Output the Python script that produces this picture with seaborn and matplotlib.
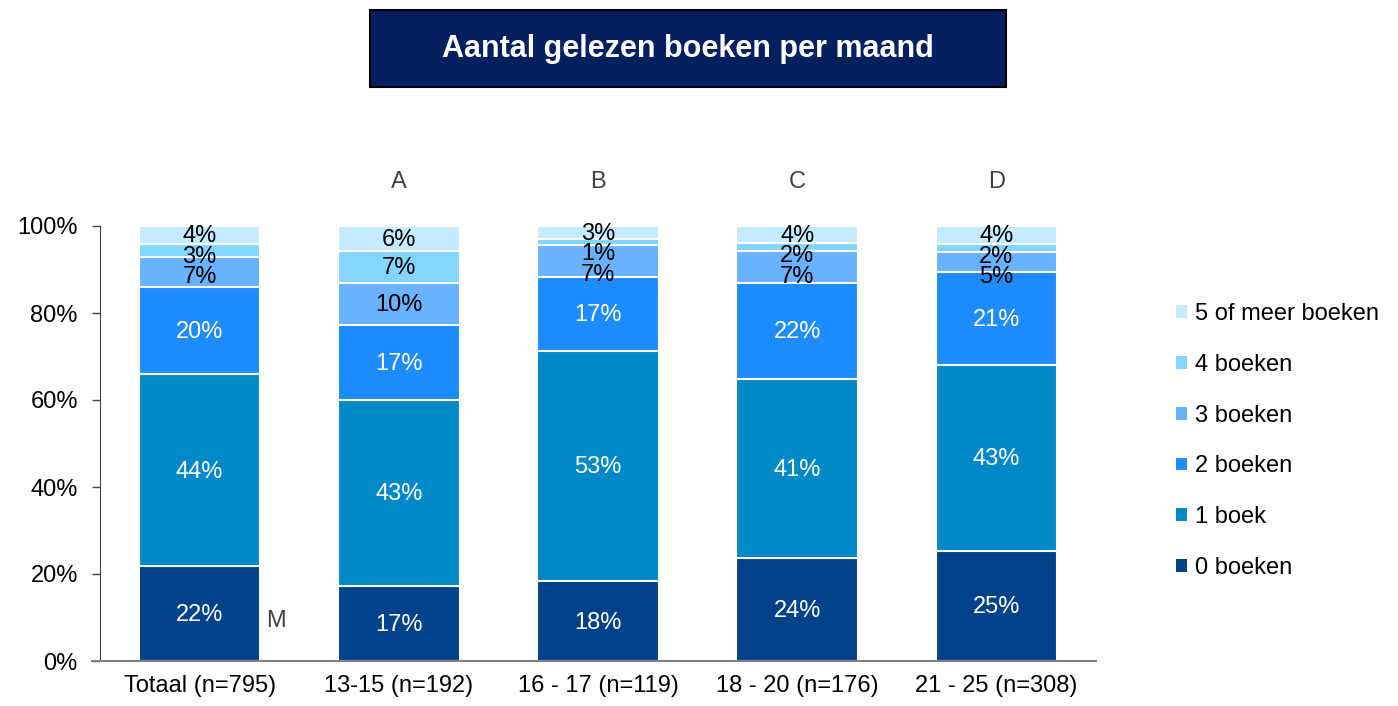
import numpy as np
import pandas as pd
import matplotlib
matplotlib.use("Agg")
import matplotlib.pyplot as plt
import seaborn as sns
from matplotlib.patches import Rectangle, Patch

# Data (percent per group, bottom to top)
groups = ['Totaal (n=795)', '13-15 (n=192)', '16 - 17 (n=119)', '18 - 20 (n=176)', '21 - 25 (n=308)']
categories = ['0 boeken', '1 boek', '2 boeken', '3 boeken', '4 boeken', '5 of meer boeken']
boeken_0 = [21.8, 17.2, 18.3, 23.7, 25.4]
boeken_1 = [44.1, 42.8, 53.0, 41.1, 42.6]
boeken_2 = [20.0, 17.2, 17.0, 22.1, 21.4]
boeken_3 = [7.0, 9.7, 7.4, 7.4, 4.6]
boeken_4 = [3.0, 7.3, 1.2, 1.8, 1.8]
boeken_5plus = [4.1, 5.8, 3.1, 3.9, 4.2]
group_letters = ['', 'A', 'B', 'C', 'D']

colors = ['#02428A', '#0088C8', '#1E8BFF', '#69B2FF', '#82D5FF', '#C4EBFF']
label_colors = ['white', 'white', 'white', 'black', 'black', 'black']

plt.rcParams['font.family'] = ['Liberation Sans', 'DejaVu Sans']
FS = 17
MIN_GAP = 4.7  # min distance between stacked labels, in % units

values = np.array([boeken_0, boeken_1, boeken_2, boeken_3, boeken_4, boeken_5plus])
cum = values.cumsum(axis=0)

fig = plt.figure(figsize=(13.98, 7.06), dpi=100)
ax = fig.add_axes([100 / 1398, 1 - 661 / 706, (1096 - 100) / 1398, (661 - 226) / 706])

# draw cumulative bars from the top layer down so they stack
for i in range(len(categories) - 1, -1, -1):
    df = pd.DataFrame({'groep': groups, 'waarde': cum[i]})
    sns.barplot(data=df, x='groep', y='waarde', color=colors[i], width=0.61,
                edgecolor='white', linewidth=1.5, saturation=1, ax=ax)

# segment labels, pushed down from the top so small ones don't pile up
for j in range(len(groups)):
    prev = None
    for i in range(len(categories) - 1, -1, -1):
        y = cum[i][j] - values[i][j] / 2
        if prev is not None:
            y = min(y, prev - MIN_GAP)
        prev = y
        ax.text(j, y - 0.3, f'{round(values[i][j]):.0f}%',
                ha='center', va='center', fontsize=FS, color=label_colors[i])

for j, letter in enumerate(group_letters):
    if letter:
        ax.text(j, 110, letter, ha='center', va='center', fontsize=FS,
                color='#404040', clip_on=False)
ax.text(0.385, 9.2, 'M', ha='center', va='center', fontsize=FS, color='#404040')

ax.set_xlim(-0.5, 4.5)
ax.set_ylim(0, 100)
ax.set_yticks([0, 20, 40, 60, 80, 100])
ax.set_yticklabels([f'{t}%' for t in [0, 20, 40, 60, 80, 100]])
ax.set_xlabel('')
ax.set_ylabel('')
ax.tick_params(axis='y', labelsize=FS, length=6, width=1, color='#404040', pad=10)
ax.tick_params(axis='x', labelsize=FS, length=0, pad=10)
for s in ['top', 'right']:
    ax.spines[s].set_visible(False)
ax.spines['left'].set_color('#404040')
ax.spines['bottom'].set_color('#808080')
ax.spines['bottom'].set_linewidth(1.5)
ax.spines['bottom'].set_bounds(-0.54, 4.5)

handles = [Patch(facecolor=colors[i], edgecolor='none', label=categories[i])
           for i in range(len(categories) - 1, -1, -1)]
fig.legend(handles=handles, loc='center left', bbox_to_anchor=(1155 / 1398, 1 - 441 / 706),
           frameon=False, fontsize=FS, handlelength=0.45, handleheight=0.45,
           handletextpad=0.35, labelspacing=1.22)

# title box
fig.patches.append(Rectangle((370 / 1398, 1 - 87 / 706), 636 / 1398, 77 / 706,
                             transform=fig.transFigure, facecolor='#04205E',
                             edgecolor='black', linewidth=1.5))
fig.text(688 / 1398, 1 - 49 / 706, 'Aantal gelezen boeken per maand', ha='center',
         va='center', fontsize=22, fontweight='bold', color='white')

plt.savefig('out.png', dpi=100)
